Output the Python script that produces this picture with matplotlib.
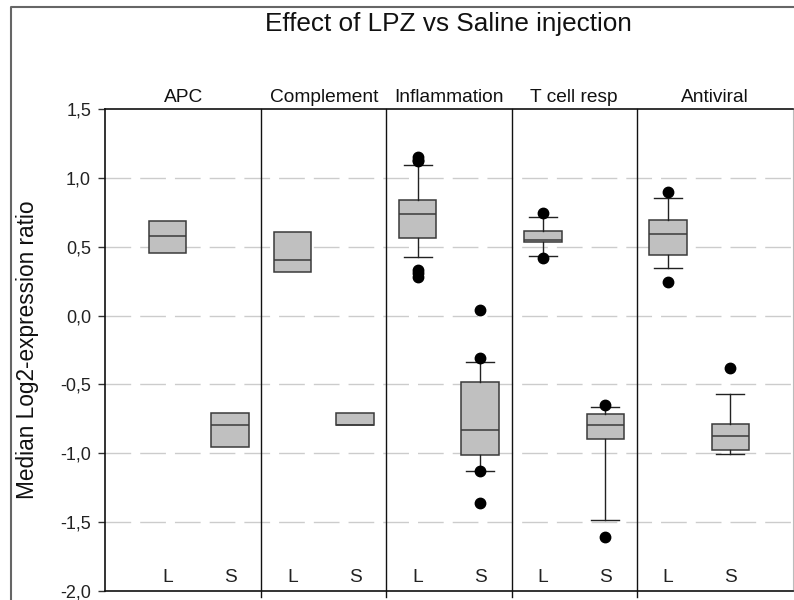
import matplotlib
matplotlib.use("Agg")
import matplotlib.pyplot as plt
from matplotlib.lines import Line2D
from matplotlib.ticker import FuncFormatter

plt.rcParams["font.family"] = ["Liberation Sans", "DejaVu Sans"]

# data
groups = ["APC", "Complement", "Inflammation", "T cell resp", "Antiviral"]
treatments = ["L", "S"]

# one entry per box, order: APC L, APC S, Complement L, Complement S, ...
q1 = [0.454, -0.952, 0.316, -0.795, 0.561, -1.011, 0.532, -0.899, 0.440, -0.979]
med = [0.578, -0.795, 0.406, -0.795, 0.735, -0.829, 0.549, -0.795, 0.594, -0.872]
q3 = [0.687, -0.708, 0.604, -0.708, 0.839, -0.480, 0.614, -0.717, 0.691, -0.785]
whis_lo = [0.454, -0.952, 0.316, -0.795, 0.423, -1.127, 0.432, -1.482, 0.343, -1.003]
whis_hi = [0.687, -0.708, 0.604, -0.708, 1.091, -0.335, 0.718, -0.664, 0.856, -0.570]
outliers = [
    [], [], [], [],
    [1.15, 1.13, 1.12, 0.33, 0.31, 0.28], [0.04, -0.306, -1.129, -1.364],
    [0.747, 0.416], [-0.650, -1.611],
    [0.897, 0.244], [-0.381],
]
has_whiskers = [False, False, False, False, True, True, True, True, True, True]

fig = plt.figure(figsize=(7.94, 6.0), dpi=100)
ax = fig.add_axes([0.1322, 0.015, 0.8665, 0.8033])

positions = list(range(len(med)))
stats = []
for i in positions:
    stats.append(dict(med=med[i], q1=q1[i], q3=q3[i],
                      whislo=whis_lo[i], whishi=whis_hi[i], fliers=outliers[i]))

ax.bxp(stats, positions=positions, widths=0.6,
       capwidths=[0.45 if w else 0.0 for w in has_whiskers],
       patch_artist=True, zorder=3,
       boxprops=dict(facecolor="#c0c0c0", edgecolor="#3a3a3a", linewidth=1.1),
       medianprops=dict(color="#3a3a3a", linewidth=1.1),
       whiskerprops=dict(color="#222222", linewidth=1.0),
       capprops=dict(color="#222222", linewidth=1.0),
       flierprops=dict(marker="o", markerfacecolor="black", markeredgecolor="black",
                       markersize=7.5))

ax.set_xlim(-1, 10)
ax.set_ylim(-2.0, 1.5)
ax.set_yticks([-2.0, -1.5, -1.0, -0.5, 0.0, 0.5, 1.0, 1.5])
ax.yaxis.set_major_formatter(FuncFormatter(lambda v, p: f"{v:.1f}".replace(".", ",")))
ax.tick_params(axis="y", direction="out", length=5, width=1, color="#333333",
               labelsize=13, labelcolor="#222222", pad=5)
ax.set_xticks([])

# dashed horizontal grid
for yv in [-1.5, -1.0, -0.5, 0.0, 0.5, 1.0]:
    ax.axhline(yv, color="#cccccc", linewidth=1.0, linestyle=(0, (18.5, 6.5)), zorder=1)

# panel separators
for k in range(1, len(groups)):
    ax.axvline(2 * k - 0.5, ymin=-0.013, ymax=1, color="#111111", linewidth=1.0,
               clip_on=False, zorder=2)

for side in ["left", "bottom", "top"]:
    ax.spines[side].set_color("#111111")
    ax.spines[side].set_linewidth(1.2)
ax.spines["right"].set_color("#bbbbbb")

# panel titles and L / S labels
bounds = [-1] + [2 * k - 0.5 for k in range(1, len(groups))] + [10]
for k, name in enumerate(groups):
    cx = (bounds[k] + bounds[k + 1]) / 2
    ax.text(cx, 1.52, name, ha="center", va="bottom", fontsize=13.8, color="#111111")
    for j, t in enumerate(treatments):
        ax.text(2 * k + j, -1.9, t, ha="center", va="center", fontsize=13.8,
                color="#222222")

fig.text(0.565, 0.96, "Effect of LPZ vs Saline injection", ha="center", va="center",
         fontsize=18.8, color="#111111")
fig.text(0.035, 0.417, "Median Log2-expression ratio", rotation=90, ha="center",
         va="center", fontsize=16.3, color="#111111")

# outer frame of the page
fig.add_artist(Line2D([0.0135, 0.0135, 1.01], [-0.01, 0.9885, 0.9885],
                      transform=fig.transFigure, color="#666666", linewidth=1.5))

fig.savefig("out.png", dpi=100)
plt.close(fig)
